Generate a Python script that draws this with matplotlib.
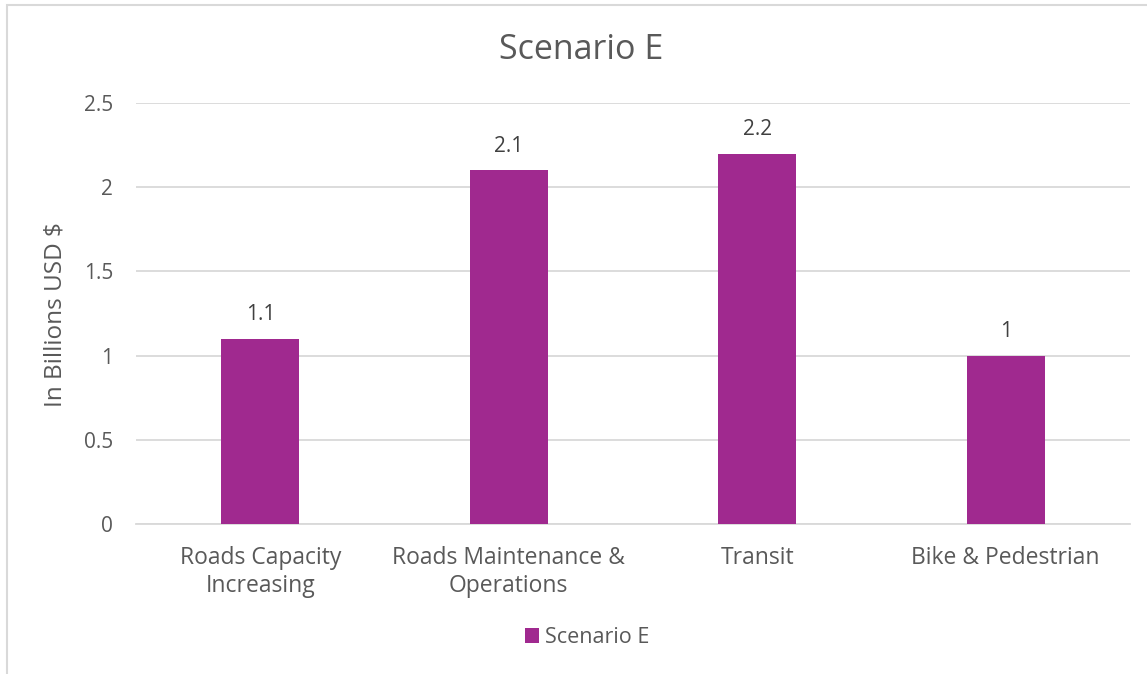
import matplotlib.pyplot as plt
from matplotlib.patches import Rectangle, Patch

plt.rcParams['font.family'] = ['Open Sans', 'DejaVu Sans']

categories = ['Roads Capacity\nIncreasing', 'Roads Maintenance &\nOperations', 'Transit', 'Bike & Pedestrian']
values = [1.1, 2.1, 2.2, 1]
value_labels = ['1.1', '2.1', '2.2', '1']
series_name = 'Scenario E'
title = 'Scenario E'
y_label = 'In Billions USD $'
y_ticks = [0, 0.5, 1, 1.5, 2, 2.5]
y_tick_labels = ['0', '0.5', '1', '1.5', '2', '2.5']

bar_color = '#A0298F'
text_color = '#595959'
label_color = '#404040'
grid_color = '#D9D9D9'

fig = plt.figure(figsize=(11.47, 6.74), dpi=100)
ax = fig.add_axes([0.1186, 0.2226, 0.8664, 0.6246])

x = range(len(categories))
ax.bar(x, values, width=0.314, color=bar_color, zorder=3)
for i, v in enumerate(values):
    ax.annotate(value_labels[i], (i, v), xytext=(0, 13.5), textcoords='offset points',
                ha='center', va='baseline', fontsize=15, color=label_color)

ax.set_xlim(-0.5, len(categories) - 0.5)
ax.set_ylim(0, 2.5)
ax.set_yticks(y_ticks)
ax.set_yticklabels(y_tick_labels, fontsize=15, color=text_color)
ax.set_xticks(list(x))
ax.set_xticklabels(categories, fontsize=16.5, color=text_color)
ax.tick_params(axis='y', length=0, pad=16.5)
ax.tick_params(axis='x', length=0, pad=16)
ax.yaxis.grid(True, color=grid_color, linewidth=1.3, zorder=0)
for s in ['top', 'right', 'left']:
    ax.spines[s].set_visible(False)
ax.spines['bottom'].set_color(grid_color)
ax.spines['bottom'].set_linewidth(1.3)

fig.text(56 / 1147, 1 - 314.5 / 674, y_label, rotation=90, ha='center', va='center',
         fontsize=17.5, color=text_color)
fig.text(581.5 / 1147, 1 - 59.3 / 674, title, ha='center', va='baseline',
         fontsize=24.5, color=text_color)

handles = [Patch(facecolor=bar_color, label=series_name)]
fig.legend(handles=handles, loc='center', bbox_to_anchor=(587 / 1147, 1 - 637.5 / 674), frameon=False,
           fontsize=15.5, labelcolor=text_color, handlelength=0.65, handleheight=0.65,
           handletextpad=0.28)

fig.patches.append(Rectangle((7 / 1147, -0.1), 1.2, 1.1 - 5 / 674, transform=fig.transFigure,
                             fill=False, edgecolor=grid_color, linewidth=1.5))

fig.savefig('out.png', dpi=100)
